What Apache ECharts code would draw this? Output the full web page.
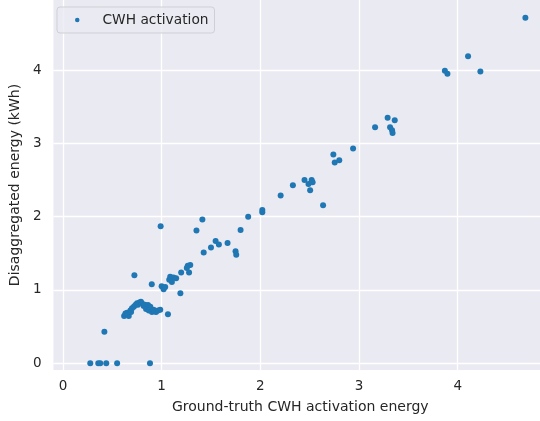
<!DOCTYPE html>
<html>
<head>
<meta charset="utf-8">
<script src="https://cdn.jsdelivr.net/npm/echarts@6/dist/echarts.min.js"></script>
<style>
  html, body { margin: 0; padding: 0; background: #fff; }
  #chart { width: 540px; height: 421px; }
</style>
</head>
<body>
<div id="chart"></div>
<script>
// ground-truth vs disaggregated energy (kWh)
const truthEnergy = [
  0.277, 0.358, 0.378, 0.439, 0.549, 0.882,
  0.42, 0.724, 0.90,
  0.62, 0.633, 0.667, 0.65, 0.683, 0.69, 0.70, 0.718, 0.734, 0.751, 0.76, 0.775, 0.79,
  0.80, 0.818, 0.83, 0.842, 0.862, 0.87, 0.885, 0.902, 0.919, 0.93, 0.943, 0.963, 0.986, 1.064,
  1.19, 1.00, 1.02, 1.036,
  0.99, 1.413, 1.353, 1.877, 1.80, 1.547, 1.58, 1.50, 1.426, 1.668, 1.749, 1.756,
  1.29, 1.265, 1.255, 1.278, 1.198, 1.147, 1.12, 1.087, 1.077, 1.104,
  2.02, 2.02, 2.206, 2.33,
  2.448, 2.488, 2.505, 2.52, 2.53, 2.636, 2.74, 2.754, 2.80, 2.94,
  3.163, 3.29, 3.362, 3.315, 3.335, 3.34,
  3.87, 3.896, 4.105, 4.23, 4.686
];
const disaggEnergy = [
  0, 0, 0, 0, 0, 0,
  0.43, 1.20, 1.08,
  0.645, 0.68, 0.645, 0.69, 0.72, 0.70, 0.75, 0.77, 0.795, 0.82, 0.80, 0.83, 0.84,
  0.82, 0.78, 0.80, 0.74, 0.795, 0.72, 0.77, 0.70, 0.73, 0.71, 0.70, 0.72, 0.73, 0.67,
  0.955, 1.05, 1.01, 1.04,
  1.87, 1.96, 1.81, 2.00, 1.82, 1.67, 1.62, 1.58, 1.51, 1.64, 1.53, 1.48,
  1.34, 1.33, 1.30, 1.24, 1.24, 1.16, 1.17, 1.18, 1.14, 1.11,
  2.09, 2.06, 2.29, 2.43,
  2.50, 2.445, 2.36, 2.50, 2.47, 2.155, 2.85, 2.74, 2.77, 2.93,
  3.22, 3.35, 3.315, 3.22, 3.18, 3.14,
  3.99, 3.95, 4.19, 3.98, 4.715
];
const xTicks = [0, 1, 2, 3, 4];
const yTicks = [0, 1, 2, 3, 4];
const seriesName = "CWH activation";

const points = truthEnergy.map((x, i) => [x, disaggEnergy[i]]);

const textColor = "#262626";
const font = "DejaVu Sans";

// grid lines drawn as mark lines so they sit on the round tick values
const gridLines = xTicks.map((v) => ({ xAxis: v }))
  .concat(yTicks.map((v) => ({ yAxis: v })));

const chart = echarts.init(document.getElementById("chart"), null, { renderer: "canvas" });

chart.setOption({
  animation: false,
  backgroundColor: "#ffffff",
  textStyle: { fontFamily: font },
  grid: {
    left: 51, right: 0, top: 0, bottom: 51,
    show: true,
    backgroundColor: "#EAEAF2",
    borderWidth: 0
  },
  legend: {
    data: [seriesName],
    left: 57,
    top: 7,
    padding: [6, 6, 6, 18],
    itemWidth: 4.5,
    itemHeight: 4.5,
    itemGap: 0,
    icon: "circle",
    backgroundColor: "rgba(234,234,242,0.8)",
    borderColor: "#cfcfd6",
    borderWidth: 1,
    borderRadius: 3,
    textStyle: {
      color: textColor,
      fontSize: 13.75,
      fontFamily: font,
      padding: [0, 0, 0, 18]
    }
  },
  xAxis: {
    type: "value",
    min: -0.0958,
    max: 4.834,
    name: "Ground-truth CWH activation energy",
    nameLocation: "middle",
    nameGap: 30,
    nameTextStyle: { color: textColor, fontSize: 14, fontFamily: font, padding: [0, 0, 0, 7] },
    axisLine: { show: false },
    axisTick: { show: false },
    splitLine: { show: false },
    axisLabel: {
      customValues: xTicks,
      color: textColor,
      fontSize: 13.5,
      margin: 9,
      fontFamily: font
    }
  },
  yAxis: {
    type: "value",
    min: -0.0914,
    max: 4.956,
    name: "Disaggregated energy (kWh)",
    nameLocation: "middle",
    nameGap: 22,
    nameTextStyle: { color: textColor, fontSize: 14, fontFamily: font },
    axisLine: { show: false },
    axisTick: { show: false },
    splitLine: { show: false },
    axisLabel: {
      customValues: yTicks,
      color: textColor,
      fontSize: 13.5,
      margin: 12,
      fontFamily: font
    }
  },
  series: [
    {
      name: "grid",
      type: "scatter",
      data: [],
      z: 1,
      silent: true,
      markLine: {
        z: 0,
        silent: true,
        symbol: ["none", "none"],
        label: { show: false },
        lineStyle: { color: "#ffffff", width: 1.3, type: "solid" },
        emphasis: { disabled: true },
        data: gridLines
      }
    },
    {
      name: seriesName,
      type: "scatter",
      z: 3,
      symbolSize: 6,
      itemStyle: { color: "#1f77b4", opacity: 1 },
      data: points
    }
  ]
});
</script>
</body>
</html>
